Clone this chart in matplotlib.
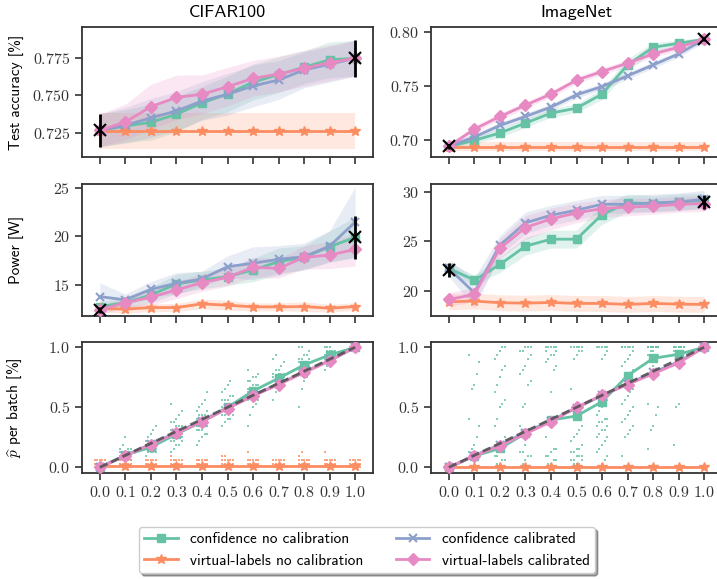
import numpy as np
import matplotlib.pyplot as plt

plt.rcParams['font.family'] = ['cmr10', 'DejaVu Sans']
plt.rcParams['mathtext.fontset'] = 'cm'
plt.rcParams['axes.formatter.use_mathtext'] = True
plt.rcParams['axes.unicode_minus'] = False
SANS = ['cmss10', 'DejaVu Sans']

thresholds = [0.0, 0.1, 0.2, 0.3, 0.4, 0.5, 0.6, 0.7, 0.8, 0.9, 1.0]
labels = ['confidence no calibration', 'virtual-labels no calibration',
          'confidence calibrated', 'virtual-labels calibrated']
colors = ['#66c2a5', '#fc8d62', '#8da0cb', '#e78ac3']
markers = ['s', '*', 'x', 'D']

# --- CIFAR100 test accuracy
cifar_acc_conf = [0.7266, 0.7295, 0.732, 0.7374, 0.745, 0.751, 0.759, 0.764, 0.769, 0.774, 0.775]
cifar_acc_virt = [0.7263, 0.7263, 0.7263, 0.7263, 0.7263, 0.7263, 0.7263, 0.7263, 0.7263, 0.7263, 0.7263]
cifar_acc_conf_cal = [0.7266, 0.730, 0.735, 0.7396, 0.7463, 0.7508, 0.7564, 0.7604, 0.7672, 0.771, 0.775]
cifar_acc_virt_cal = [0.7266, 0.7322, 0.7425, 0.7487, 0.7508, 0.7559, 0.7615, 0.7644, 0.7683, 0.772, 0.775]
cifar_acc_conf_std = [0.011, 0.011, 0.012, 0.012, 0.011, 0.012, 0.012, 0.012, 0.011, 0.012, 0.012]
cifar_acc_virt_std = [0.012, 0.012, 0.012, 0.012, 0.012, 0.012, 0.012, 0.012, 0.012, 0.012, 0.012]
cifar_acc_conf_cal_std = [0.011, 0.012, 0.013, 0.013, 0.013, 0.014, 0.014, 0.013, 0.012, 0.012, 0.012]
cifar_acc_virt_cal_std = [0.011, 0.012, 0.015, 0.015, 0.013, 0.013, 0.012, 0.012, 0.012, 0.012, 0.012]
cifar_acc_ref = [0.7266, 0.775]
cifar_acc_ref_err = [0.011, 0.0125]

# --- ImageNet test accuracy
inet_acc_conf = [0.6938, 0.6994, 0.7062, 0.7154, 0.7246, 0.7292, 0.7422, 0.7692, 0.7855, 0.7892, 0.7929]
inet_acc_virt = [0.6935, 0.6935, 0.6935, 0.6935, 0.6935, 0.6935, 0.6935, 0.6935, 0.6935, 0.6935, 0.6935]
inet_acc_conf_cal = [0.6938, 0.7025, 0.7132, 0.7215, 0.7302, 0.7415, 0.7492, 0.7591, 0.7692, 0.7794, 0.7929]
inet_acc_virt_cal = [0.6938, 0.7098, 0.7215, 0.732, 0.7422, 0.7551, 0.7631, 0.7708, 0.7794, 0.7855, 0.7929]
inet_acc_conf_std = [0.002, 0.003, 0.004, 0.004, 0.004, 0.004, 0.005, 0.006, 0.004, 0.003, 0.002]
inet_acc_virt_std = [0.004, 0.004, 0.004, 0.004, 0.004, 0.004, 0.004, 0.004, 0.004, 0.004, 0.004]
inet_acc_conf_cal_std = [0.003, 0.003, 0.003, 0.003, 0.003, 0.003, 0.003, 0.003, 0.003, 0.003, 0.003]
inet_acc_virt_cal_std = [0.003, 0.003, 0.003, 0.003, 0.003, 0.003, 0.003, 0.003, 0.003, 0.003, 0.003]
inet_acc_ref = [0.6938, 0.7929]
inet_acc_ref_err = [0.002, 0.002]

# --- CIFAR100 power
cifar_pow_conf = [12.77, 13.18, 13.97, 15.1, 15.51, 15.86, 16.54, 17.40, 17.84, 18.94, 19.90]
cifar_pow_virt = [12.60, 12.50, 12.67, 12.67, 13.05, 12.91, 12.74, 12.74, 12.77, 12.60, 12.77]
cifar_pow_conf_cal = [13.80, 13.46, 14.55, 15.17, 15.62, 16.88, 17.23, 17.64, 17.91, 19.0, 21.47]
cifar_pow_virt_cal = [12.43, 13.18, 13.73, 14.49, 15.24, 15.79, 16.82, 16.71, 17.84, 18.08, 18.66]
cifar_pow_conf_std = [0.5, 0.6, 0.8, 1.0, 0.9, 0.9, 1.2, 1.4, 1.2, 1.6, 2.1]
cifar_pow_virt_std = [0.4, 0.4, 0.4, 0.4, 0.5, 0.5, 0.4, 0.4, 0.5, 0.4, 0.4]
cifar_pow_conf_cal_std = [1.4, 0.6, 0.8, 1.1, 0.8, 1.1, 1.7, 1.4, 1.4, 1.6, 3.6]
cifar_pow_virt_cal_std = [0.4, 0.6, 0.8, 0.9, 0.9, 0.9, 1.0, 1.0, 1.2, 1.4, 1.7]
cifar_pow_ref = [12.43, 19.9]
cifar_pow_ref_err = [0.3, 2.2]

# --- ImageNet power
inet_pow_conf = [22.26, 21.08, 22.66, 24.51, 25.22, 25.22, 27.71, 28.89, 28.82, 28.99, 29.09]
inet_pow_virt = [18.89, 18.96, 18.79, 18.75, 18.82, 18.72, 18.72, 18.62, 18.72, 18.65, 18.62]
inet_pow_conf_cal = [22.26, 19.8, 24.61, 26.87, 27.64, 28.15, 28.75, 28.75, 28.89, 28.99, 29.26]
inet_pow_virt_cal = [19.12, 19.63, 24.28, 26.40, 27.27, 27.88, 28.32, 28.48, 28.55, 28.75, 28.82]
inet_pow_conf_std = [0.6, 0.5, 0.8, 0.9, 0.9, 0.9, 1.0, 0.9, 0.8, 0.8, 0.8]
inet_pow_virt_std = [0.8, 0.8, 0.8, 0.8, 0.8, 0.8, 0.8, 0.8, 0.8, 0.8, 0.8]
inet_pow_conf_cal_std = [0.8, 1.5, 1.0, 1.1, 1.0, 1.0, 0.9, 0.9, 0.9, 0.9, 0.9]
inet_pow_virt_cal_std = [0.7, 0.7, 1.0, 1.2, 1.1, 1.0, 0.9, 0.9, 0.8, 0.8, 0.8]
inet_pow_ref = [22.1, 29.0]
inet_pow_ref_err = [0.7, 0.7]

# --- fraction of exits per batch (means)
cifar_p_conf = [0.0, 0.103, 0.167, 0.278, 0.38, 0.5, 0.636, 0.742, 0.853, 0.936, 1.0]
cifar_p_virt = [0.012, 0.012, 0.012, 0.012, 0.012, 0.012, 0.012, 0.012, 0.012, 0.012, 0.012]
cifar_p_conf_cal = [0.0, 0.098, 0.195, 0.29, 0.39, 0.495, 0.6, 0.695, 0.795, 0.89, 1.0]
cifar_p_virt_cal = [0.0, 0.097, 0.19, 0.285, 0.38, 0.49, 0.595, 0.69, 0.79, 0.885, 1.0]
inet_p_conf = [0.0, 0.094, 0.158, 0.283, 0.394, 0.428, 0.547, 0.764, 0.908, 0.942, 1.0]
inet_p_virt = [0.0, 0.0, 0.0, 0.0, 0.0, 0.0, 0.0, 0.0, 0.0, 0.0, 0.0]
inet_p_conf_cal = [0.0, 0.098, 0.19, 0.29, 0.39, 0.495, 0.6, 0.695, 0.79, 0.88, 1.0]
inet_p_virt_cal = [0.0, 0.095, 0.18, 0.28, 0.38, 0.5, 0.6, 0.69, 0.78, 0.87, 1.0]
p_std = [0.008] * 11

# per-batch exit counts out of 32, one list per threshold
cifar_batches_conf = [
    [0, 0, 0],
    [1, 2, 2, 2, 2, 3, 3, 3, 3, 3, 3, 3, 3, 4, 4, 4, 4, 4, 5, 5, 5, 6, 8],
    [3, 4, 4, 4, 4, 5, 5, 5, 5, 5, 5, 5, 6, 6, 6, 6, 6, 6, 7, 7, 7, 8, 9, 10, 11],
    [4, 5, 6, 6, 7, 7, 7, 8, 8, 8, 8, 8, 9, 9, 9, 9, 9, 9, 10, 10, 10, 10, 11, 11, 11, 12, 12, 13, 14, 15, 17],
    [6, 7, 8, 9, 9, 10, 10, 10, 11, 11, 11, 11, 12, 12, 12, 12, 12, 13, 13, 13, 13, 14, 14, 14, 15, 15, 16, 17, 18, 20],
    [11, 12, 13, 13, 14, 14, 14, 15, 15, 15, 15, 16, 16, 16, 16, 16, 17, 17, 17, 17, 18, 18, 18, 19, 19, 20, 21, 22, 23],
    [11, 14, 16, 17, 18, 18, 19, 19, 19, 20, 20, 20, 20, 21, 21, 21, 21, 22, 22, 22, 23, 23, 24, 24, 25, 26],
    [18, 20, 21, 22, 22, 23, 23, 23, 24, 24, 24, 24, 25, 25, 25, 25, 26, 26, 27, 28, 29, 30],
    [16, 21, 23, 24, 25, 26, 26, 27, 27, 27, 28, 28, 28, 28, 29, 29, 29, 30, 30, 31, 32, 32],
    [26, 27, 28, 28, 29, 29, 29, 30, 30, 30, 30, 31, 31, 31, 31, 32, 32, 32],
    [31, 32, 32, 32, 32, 32],
]
cifar_batches_virt = [
    [0, 0, 0, 0, 0, 1, 1, 1, 1, 1, 2, 2, 2, 2, 2],
    [0, 0, 0, 0, 0, 1, 1, 1, 1, 1, 2, 2, 2, 2, 2, 3],
    [0, 0, 0, 0, 0, 1, 1, 1, 1, 1, 2, 2, 2, 2, 2],
    [0, 0, 0, 0, 0, 1, 1, 1, 1, 1, 2, 2, 2, 2, 2, 3],
    [0, 0, 0, 0, 0, 1, 1, 1, 1, 1, 2, 2, 2, 2, 2],
    [0, 0, 0, 0, 0, 1, 1, 1, 1, 1, 2, 2, 2, 2, 2, 3, 3],
    [0, 0, 0, 0, 0, 1, 1, 1, 1, 1, 2, 2, 2, 2, 2, 4],
    [0, 0, 0, 0, 0, 1, 1, 1, 1, 1, 2, 2, 2, 2, 2],
    [0, 0, 0, 0, 0, 1, 1, 1, 1, 1, 2, 2, 2, 2, 2, 3, 4],
    [0, 0, 0, 0, 0, 1, 1, 1, 1, 1, 2, 2, 2, 2, 2, 4],
    [0, 0, 0, 0, 0, 1, 1, 1, 1, 1, 2, 2, 2, 2, 2],
]
inet_batches_conf = [
    [0, 0, 0, 0, 0],
    [0, 0, 0, 0, 0, 0, 0, 0, 2, 3, 4, 5, 6, 8, 11, 13, 21, 22, 25, 28, 30],
    [0, 0, 0, 0, 0, 0, 1, 1, 2, 2, 3, 3, 4, 6, 8, 11, 13, 16, 17, 18, 20, 22, 24, 26, 27, 29, 30, 31, 32, 32],
    [0, 0, 0, 0, 0, 0, 1, 2, 3, 3, 4, 4, 6, 9, 10, 11, 16, 17, 22, 23, 25, 26, 27, 29, 30, 31, 31, 32, 32, 32],
    [0, 0, 0, 0, 0, 0, 1, 1, 2, 2, 3, 3, 4, 5, 5, 8, 13, 20, 26, 27, 28, 29, 30, 30, 31, 31, 32, 32, 32, 32, 32],
    [0, 0, 0, 0, 0, 0, 1, 1, 1, 2, 2, 2, 3, 3, 3, 4, 4, 5, 5, 6, 7, 8, 9, 10, 11, 21, 29, 30, 31, 31,
     32, 32, 32, 32, 32],
    [0, 0, 1, 2, 3, 4, 5, 6, 7, 8, 8, 9, 10, 10, 11, 11, 12, 12, 13, 13, 14, 15, 16, 17, 18, 19, 20, 29, 30, 31,
     32, 32, 32, 32, 32],
    [3, 8, 9, 10, 11, 12, 13, 14, 15, 16, 17, 18, 19, 20, 21, 22, 23, 24, 25, 26, 27, 28, 29, 30, 31,
     32, 32, 32, 32, 32, 32],
    [5, 10, 11, 14, 16, 17, 26, 27, 28, 30, 30, 31, 31, 32, 32, 32, 32, 32, 32, 32, 32, 32, 32, 32],
    [6, 16, 17, 27, 29, 31, 31, 32, 32, 32, 32, 32, 32, 32, 32, 32],
    [32, 32, 32, 32, 32],
]

panels = [
    # (row, col, means, stds, ref, ref_err, ylim, yticks)
    (0, 0, [cifar_acc_conf, cifar_acc_virt, cifar_acc_conf_cal, cifar_acc_virt_cal],
     [cifar_acc_conf_std, cifar_acc_virt_std, cifar_acc_conf_cal_std, cifar_acc_virt_cal_std],
     cifar_acc_ref, cifar_acc_ref_err, (0.7087, 0.796), [0.725, 0.750, 0.775]),
    (0, 1, [inet_acc_conf, inet_acc_virt, inet_acc_conf_cal, inet_acc_virt_cal],
     [inet_acc_conf_std, inet_acc_virt_std, inet_acc_conf_cal_std, inet_acc_virt_cal_std],
     inet_acc_ref, inet_acc_ref_err, (0.684, 0.8043), [0.70, 0.75, 0.80]),
    (1, 0, [cifar_pow_conf, cifar_pow_virt, cifar_pow_conf_cal, cifar_pow_virt_cal],
     [cifar_pow_conf_std, cifar_pow_virt_std, cifar_pow_conf_cal_std, cifar_pow_virt_cal_std],
     cifar_pow_ref, cifar_pow_ref_err, (11.8, 25.4), [15, 20, 25]),
    (1, 1, [inet_pow_conf, inet_pow_virt, inet_pow_conf_cal, inet_pow_virt_cal],
     [inet_pow_conf_std, inet_pow_virt_std, inet_pow_conf_cal_std, inet_pow_virt_cal_std],
     inet_pow_ref, inet_pow_ref_err, (17.45, 30.8), [20, 25, 30]),
    (2, 0, [cifar_p_conf, cifar_p_virt, cifar_p_conf_cal, cifar_p_virt_cal],
     [p_std] * 4, None, None, (-0.047, 1.044), [0.0, 0.5, 1.0]),
    (2, 1, [inet_p_conf, inet_p_virt, inet_p_conf_cal, inet_p_virt_cal],
     [p_std] * 4, None, None, (-0.047, 1.044), [0.0, 0.5, 1.0]),
]

W, H = 717, 579
fig = plt.figure(figsize=(W / 100, H / 100), dpi=100)
col_left = [82, 431]
row_px = [(27, 157), (184, 316), (342, 473)]
axw = 291

axes = {}
for r in range(3):
    for c in range(2):
        top, bot = row_px[r]
        axes[(r, c)] = fig.add_axes([col_left[c] / W, 1 - bot / H, axw / W, (bot - top) / H])

col_offsets = [-0.02, -0.01, 0.0, 0.01, 0.02]


def draw_batches(ax, batches, color):
    xs, ys = [], []
    for t, counts in zip(thresholds, batches):
        for i, k in enumerate(counts):
            xs.append(t + col_offsets[i % 5])
            ys.append(k / 32)
    ax.scatter(xs, ys, s=2.0, marker='s', color=color, lw=0, alpha=0.8, zorder=1)


handles = []
for (r, c, means, stds, ref, ref_err, ylim, yticks) in panels:
    ax = axes[(r, c)]
    x = np.array(thresholds)
    if r == 2:
        if c == 0:
            draw_batches(ax, cifar_batches_conf, colors[0])
            draw_batches(ax, cifar_batches_virt, colors[1])
        else:
            draw_batches(ax, inet_batches_conf, colors[0])
    for i in range(4):
        m = np.array(means[i])
        s = np.array(stds[i])
        ax.fill_between(x, m - s, m + s, color=colors[i], alpha=0.2, lw=0, zorder=2)
        ms = 6 if markers[i] != '*' else 7
        ln, = ax.plot(x, m, color=colors[i], marker=markers[i], ms=ms, lw=2,
                      mew=1.5 if markers[i] == 'x' else 1, zorder=3 + i, label=labels[i])
        if r == 0 and c == 0:
            handles.append(ln)
    if ref is not None:
        ax.errorbar([thresholds[0], thresholds[-1]], ref, yerr=ref_err, fmt='x', color='black',
                    ms=9, mew=1.5, elinewidth=2, capsize=0, zorder=10)
    else:
        ax.plot(thresholds, thresholds, ls='--', color='#4d4d4d', lw=2, alpha=0.85,
                dashes=(3, 1.5), zorder=9)
    ax.set_xlim(-0.07, 1.07)
    ax.set_ylim(*ylim)
    ax.set_xticks(thresholds)
    ax.set_yticks(yticks)
    ax.tick_params(direction='out', length=5, width=1.2, labelsize=11.5, colors='#333333')
    for sp in ax.spines.values():
        sp.set_linewidth(1.3)
        sp.set_color('#333333')
    if r < 2:
        ax.tick_params(labelbottom=False)

axes[(0, 0)].set_title('CIFAR100', fontsize=13, family=SANS, pad=7)
axes[(0, 1)].set_title('ImageNet', fontsize=13, family=SANS, pad=7)
axes[(0, 0)].set_ylabel('Test accuracy [%]', fontsize=11, family=SANS)
axes[(1, 0)].set_ylabel('Power [W]', fontsize=11, family=SANS)
axes[(2, 0)].set_ylabel(r'$\widehat{p}$ per batch [%]', fontsize=11, family=SANS)
for r in range(3):
    axes[(r, 0)].yaxis.set_label_coords(-0.2, 0.5)

fig.legend(handles=handles, labels=labels, loc='center', bbox_to_anchor=(367 / W, 1 - 550 / H),
           ncol=2, prop={'family': SANS, 'size': 11}, shadow=True, fancybox=True,
           framealpha=1, edgecolor='#cccccc', columnspacing=2.1, handlelength=2.2,
           handletextpad=0.8, borderpad=0.35)

fig.savefig('out.png', dpi=100)
